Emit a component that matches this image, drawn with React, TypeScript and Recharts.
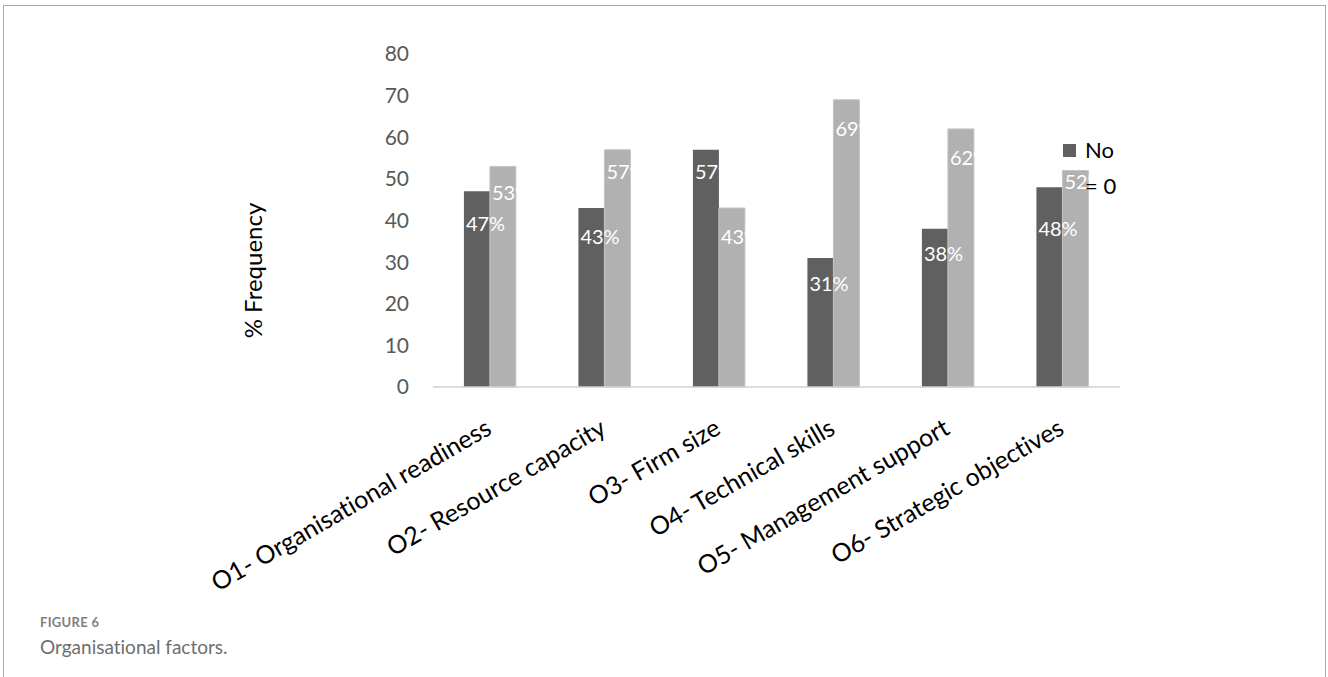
import React from 'react';
import { BarChart, Bar, XAxis, YAxis, Label } from 'recharts';

const categories = [
  'O1- Organisational readiness',
  'O2- Resource capacity',
  'O3- Firm size',
  'O4- Technical skills',
  'O5- Management support',
  'O6- Strategic objectives',
];
const noValues = [47, 43, 57, 31, 38, 48];
const yesValues = [53, 57, 43, 69, 62, 52];
const yTicks = [0, 10, 20, 30, 40, 50, 60, 70, 80];

// how far below each bar top its label sits (px)
const noLabelDrop = [32, 28, 21, 25, 24, 41];
const yesLabelDrop = [26, 21, 28, 28, 28, 10];

const chartData = categories.map((name, i) => ({
  name,
  no: noValues[i],
  yes: yesValues[i],
}));

const FONT = 'Lato, "Liberation Sans", sans-serif';
const DARK = '#606060';
const LIGHT = '#b1b1b1';
const noLig = { fontVariantLigatures: 'none' } as React.CSSProperties;

const makeLabel = (drops: number[]) => (props: any) => {
  const { x, y, value, index } = props;
  return (
    <text
      x={Number(x) + 2}
      y={Number(y) + drops[index]}
      dominantBaseline="central"
      fill="#ffffff"
      fontSize={20}
      fontFamily={FONT}
    >
      {value}%
    </text>
  );
};

const CategoryTick = ({ x, y, payload }: any) => {
  const tx = x + 3;
  const ty = y + 44;
  return (
    <text
      x={tx}
      y={ty}
      transform={`rotate(-30, ${tx}, ${ty})`}
      textAnchor="end"
      fontSize={25}
      fontFamily={FONT}
      fill="#000"
      style={noLig}
    >
      {payload.value}
    </text>
  );
};

// only the first series fits in the legend box, the rest is cut off
const LegendBox = () => (
  <div
    style={{
      position: 'absolute',
      left: 1063,
      top: 132,
      display: 'flex',
      alignItems: 'flex-start',
      fontFamily: FONT,
      fontSize: 22,
      color: '#000',
    }}
  >
    <div style={{ width: 13, height: 13, background: DARK, marginTop: 12, marginRight: 8 }} />
    <div style={{ width: 34, lineHeight: '36px', marginLeft: 1 }}>No = 0</div>
  </div>
);

export default function App() {
  return (
    <div
      style={{
        position: 'absolute',
        left: 0,
        top: 0,
        width: 1328,
        height: 677,
        background: '#fff',
        overflow: 'hidden',
      }}
    >
      <div
        style={{
          position: 'absolute',
          left: 3,
          top: 5,
          width: 1321,
          height: 700,
          borderTop: '1px solid #a9a9a9',
          borderLeft: '1px solid #a9a9a9',
          borderRight: '1px solid #a9a9a9',
        }}
      />
      <div style={{ position: 'absolute', left: 0, top: 0 }}>
        <BarChart
          width={1328}
          height={677}
          data={chartData}
          margin={{ top: 54, right: 208, left: 373, bottom: 0 }}
          barCategoryGap="27%"
          barGap={0}
        >
          <XAxis
            dataKey="name"
            height={290}
            interval={0}
            tickLine={false}
            tickSize={0}
            axisLine={{ stroke: '#d0d0d0', strokeWidth: 1.5 }}
            tick={<CategoryTick />}
          />
          <YAxis
            width={60}
            domain={[0, 80]}
            ticks={yTicks}
            axisLine={false}
            tickLine={false}
            tickSize={0}
            tickMargin={24}
            tick={{ fontSize: 21, fill: '#595959', fontFamily: FONT }}
          >
            <Label
              content={({ viewBox }: any) => {
                const cx = viewBox.x - 121;
                const cy = viewBox.y + viewBox.height / 2 + 50;
                return (
                  <text
                    x={cx}
                    y={cy}
                    transform={`rotate(-90, ${cx}, ${cy})`}
                    textAnchor="middle"
                    dominantBaseline="central"
                    fontSize={24}
                    fontFamily={FONT}
                    fill="#000"
                  >
                    % Frequency
                  </text>
                );
              }}
            />
          </YAxis>
          <Bar dataKey="no" name="No = 0" fill={DARK} isAnimationActive={false} label={makeLabel(noLabelDrop)} />
          <Bar
            dataKey="yes"
            name="Yes = 1"
            fill={LIGHT}
            stroke="#c4c4c4"
            strokeWidth={1}
            isAnimationActive={false}
            label={makeLabel(yesLabelDrop)}
          />
        </BarChart>
      </div>
      <LegendBox />
      <div
        style={{
          position: 'absolute',
          left: 40,
          top: 614,
          fontFamily: FONT,
          fontSize: 13,
          fontWeight: 700,
          color: '#808080',
          letterSpacing: 0.3,
        }}
      >
        FIGURE 6
      </div>
      <div
        style={{
          position: 'absolute',
          left: 40,
          top: 635,
          fontFamily: FONT,
          fontSize: 19,
          color: '#6e6e6e',
          ...noLig,
        }}
      >
        Organisational factors.
      </div>
    </div>
  );
}
